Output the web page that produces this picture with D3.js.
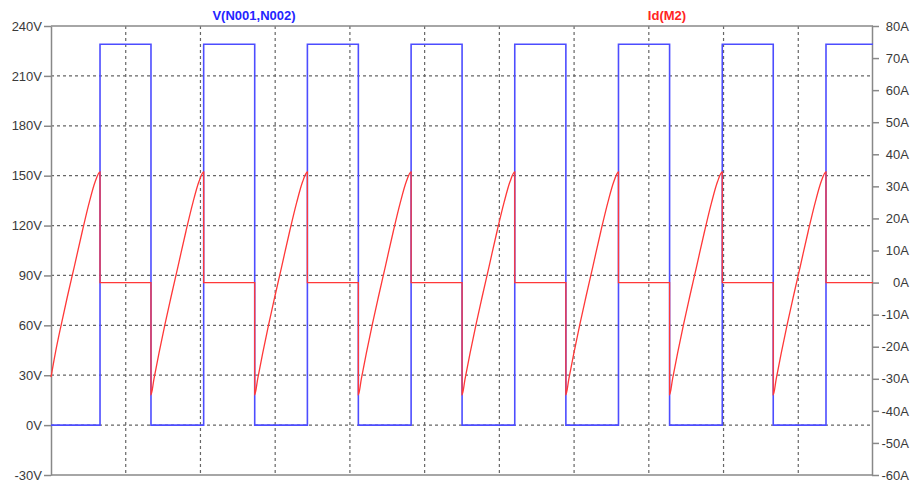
<!DOCTYPE html>
<html>
<head>
<meta charset="utf-8">
<script src="https://cdn.jsdelivr.net/npm/d3@7"></script>
<style>
  body { margin: 0; background: #fff; }
  svg { display: block; font-family: "Liberation Sans", Arial, sans-serif; }
</style>
</head>
<body>
<svg class="wavesvg" width="910" height="483"></svg>
<script>
// time in units where one vertical grid division = 10
var timeTicks = d3.range(0, 111, 10);
var voltTicks = d3.range(-30, 241, 30);
var ampTicks = d3.range(-60, 81, 10);

// V(N001,N002)
var vTime = [0, 6.56, 6.56, 13.38, 13.38, 20.43, 20.43, 27.26, 27.26, 34.31, 34.31,
    41.13, 41.13, 48.19, 48.19, 55.01, 55.01, 62.06, 62.06, 68.90, 68.90, 75.94, 75.94,
    82.78, 82.78, 89.83, 89.83, 96.65, 96.65, 103.71, 103.71, 110];
var vVolts = [0, 0, 229, 229, 0, 0, 229, 229, 0, 0, 229,
    229, 0, 0, 229, 229, 0, 0, 229, 229, 0, 0, 229,
    229, 0, 0, 229, 229, 0, 0, 229, 229];

// Id(M2)
var idTime = [
    0, 0.58, 1.38, 2.18, 3.12, 4.19, 5.12, 5.92, 6.56, 6.56,
    13.38, 13.38, 13.78, 14.45, 15.25, 16.06, 16.99, 18.06, 19.00, 19.80, 20.43, 20.43,
    27.26, 27.26, 27.66, 28.33, 29.13, 29.94, 30.87, 31.94, 32.88, 33.68, 34.31, 34.31,
    41.13, 41.13, 41.53, 42.20, 43.00, 43.81, 44.74, 45.81, 46.75, 47.55, 48.19, 48.19,
    55.01, 55.01, 55.41, 56.08, 56.88, 57.69, 58.62, 59.69, 60.63, 61.43, 62.06, 62.06,
    68.90, 68.90, 69.30, 69.97, 70.77, 71.58, 72.51, 73.58, 74.52, 75.32, 75.94, 75.94,
    82.78, 82.78, 83.18, 83.85, 84.65, 85.46, 86.39, 87.46, 88.40, 89.20, 89.83, 89.83,
    96.65, 96.65, 97.05, 97.72, 98.52, 99.33, 100.26, 101.33, 102.27, 103.07, 103.71, 103.71,
    110];
var idAmps = [
    -29.5, -22, -13, -4.5, 5, 16, 25, 31.5, 34.5, 0,
    0, -35, -30, -22, -13, -4.5, 5, 16, 25, 31.5, 34.5, 0,
    0, -35, -30, -22, -13, -4.5, 5, 16, 25, 31.5, 34.5, 0,
    0, -35, -30, -22, -13, -4.5, 5, 16, 25, 31.5, 34.5, 0,
    0, -35, -30, -22, -13, -4.5, 5, 16, 25, 31.5, 34.5, 0,
    0, -35, -30, -22, -13, -4.5, 5, 16, 25, 31.5, 34.5, 0,
    0, -35, -30, -22, -13, -4.5, 5, 16, 25, 31.5, 34.5, 0,
    0, -35, -30, -22, -13, -4.5, 5, 16, 25, 31.5, 34.5, 0,
    0];

var svg = d3.select(".wavesvg"),
    plotLeft = 51, plotRight = 873, plotTop = 26, plotBottom = 475;

var xScale = d3.scaleLinear().domain([0, 110]).range([plotLeft, plotRight]);
var yV = d3.scaleLinear().domain([-30, 240]).range([plotBottom, plotTop]);
var yA = d3.scaleLinear().domain([-60, 80]).range([plotBottom, plotTop]);

var grid = svg.append("g")
    .attr("stroke", "#666")
    .attr("stroke-width", 1.2)
    .attr("stroke-dasharray", "3,3");

grid.selectAll(".vgrid")
    .data(timeTicks.slice(1, -1))
    .enter().append("line")
    .attr("x1", function(d) { return xScale(d); })
    .attr("x2", function(d) { return xScale(d); })
    .attr("y1", plotTop)
    .attr("y2", plotBottom);

grid.selectAll(".hgrid")
    .data(voltTicks.slice(1, -1))
    .enter().append("line")
    .attr("x1", plotLeft)
    .attr("x2", plotRight)
    .attr("y1", function(d) { return yV(d); })
    .attr("y2", function(d) { return yV(d); });

// frame top / bottom
svg.append("line").attr("x1", plotLeft).attr("x2", plotRight).attr("y1", plotTop).attr("y2", plotTop)
    .attr("stroke", "#888").attr("stroke-width", 1.5);
svg.append("line").attr("x1", plotLeft).attr("x2", plotRight).attr("y1", plotBottom).attr("y2", plotBottom)
    .attr("stroke", "#888").attr("stroke-width", 1.5);

var leftAxis = svg.append("g")
    .attr("transform", "translate(" + plotLeft + ",0)")
    .call(d3.axisLeft(yV).tickValues(voltTicks).tickSize(7).tickSizeOuter(0).tickPadding(2)
        .tickFormat(function(d) { return d + "V"; }));

var rightAxis = svg.append("g")
    .attr("transform", "translate(" + (plotRight - 1) + ",0)")
    .call(d3.axisRight(yA).tickValues(ampTicks).tickSize(7).tickSizeOuter(0)
        .tickFormat(function(d) { return d + "A"; }));
rightAxis.selectAll("text")
    .attr("text-anchor", "end")
    .attr("x", 37);

svg.selectAll(".domain, .tick line").attr("stroke", "#888").attr("stroke-width", 1.5);
svg.selectAll(".tick text")
    .attr("font-size", 13)
    .attr("font-family", "Liberation Sans, Arial, sans-serif")
    .attr("fill", "#3a3a3a");

var vLine = d3.line()
    .x(function(d, i) { return xScale(vTime[i]); })
    .y(function(d) { return yV(d); });

// smooth the ramps; vertical steps stay straight
var aLine = d3.line()
    .curve(d3.curveMonotoneX)
    .x(function(d, i) { return xScale(idTime[i]); })
    .y(function(d) { return yA(d); });

svg.append("path")
    .attr("d", vLine(vVolts))
    .attr("fill", "none")
    .attr("stroke", "#4d4dff")
    .attr("stroke-width", 1.6);

svg.append("path")
    .attr("d", aLine(idAmps))
    .attr("fill", "none")
    .attr("stroke", "#ff3838")
    .attr("stroke-width", 1.3);

svg.append("text")
    .attr("x", 254).attr("y", 20)
    .attr("text-anchor", "middle")
    .attr("font-size", 13).attr("font-weight", "bold")
    .attr("fill", "#2424ff")
    .text("V(N001,N002)");

svg.append("text")
    .attr("x", 667).attr("y", 20)
    .attr("text-anchor", "middle")
    .attr("font-size", 13).attr("font-weight", "bold")
    .attr("fill", "#ff2424")
    .text("Id(M2)");
</script>
</body>
</html>
